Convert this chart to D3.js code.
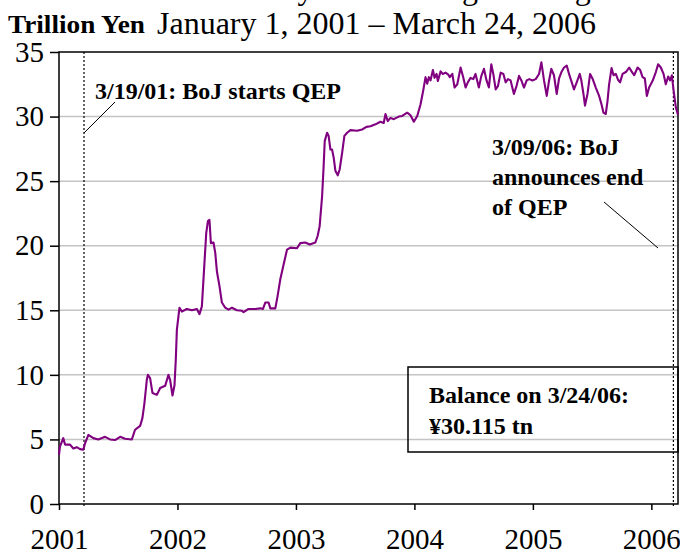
<!DOCTYPE html>
<html>
<head>
<meta charset="utf-8">
<script src="https://cdn.jsdelivr.net/npm/d3@7"></script>
<style>
  body { margin: 0; background: #fff; }
  svg { display: block; font-family: "Liberation Serif", "Times New Roman", serif; }
</style>
</head>
<body>
<div id="container"></div>
<script>
// time in decimal years, balance in trillion yen
const years = [
  2001.000, 2001.008, 2001.036, 2001.051, 2001.093, 2001.121, 2001.150, 2001.178, 2001.205, 2001.220,
  2001.248, 2001.290, 2001.332, 2001.389, 2001.431, 2001.473, 2001.516, 2001.558, 2001.615, 2001.642,
  2001.685, 2001.704, 2001.721, 2001.741, 2001.750, 2001.769, 2001.789, 2001.826, 2001.854, 2001.896,
  2001.924, 2001.938, 2001.958, 2001.975, 2001.986, 2001.995, 2002.017, 2002.037, 2002.079, 2002.122,
  2002.164, 2002.186, 2002.206, 2002.226, 2002.243, 2002.257, 2002.270, 2002.282, 2002.304, 2002.319,
  2002.333, 2002.355, 2002.375, 2002.403, 2002.431, 2002.460, 2002.502, 2002.544, 2002.558, 2002.600,
  2002.657, 2002.699, 2002.722, 2002.741, 2002.769, 2002.784, 2002.826, 2002.845, 2002.868, 2002.896,
  2002.925, 2002.953, 2003.009, 2003.037, 2003.079, 2003.116, 2003.164, 2003.183, 2003.200, 2003.221,
  2003.234, 2003.243, 2003.263, 2003.276, 2003.291, 2003.305, 2003.319, 2003.333, 2003.353, 2003.369,
  2003.390, 2003.409, 2003.432, 2003.460, 2003.516, 2003.559, 2003.595, 2003.629, 2003.671, 2003.713,
  2003.741, 2003.756, 2003.775, 2003.798, 2003.826, 2003.868, 2003.897, 2003.939, 2003.967, 2003.995,
  2004.024, 2004.052, 2004.074, 2004.094, 2004.108, 2004.122, 2004.136, 2004.156, 2004.170, 2004.187,
  2004.198, 2004.221, 2004.240, 2004.263, 2004.286, 2004.299, 2004.320, 2004.339, 2004.362, 2004.390,
  2004.413, 2004.432, 2004.451, 2004.474, 2004.497, 2004.516, 2004.544, 2004.565, 2004.587, 2004.609,
  2004.629, 2004.649, 2004.666, 2004.686, 2004.705, 2004.728, 2004.751, 2004.770, 2004.790, 2004.812,
  2004.840, 2004.863, 2004.883, 2004.903, 2004.925, 2004.948, 2004.970, 2004.996, 2005.024, 2005.052,
  2005.072, 2005.094, 2005.117, 2005.136, 2005.156, 2005.178, 2005.201, 2005.221, 2005.241, 2005.263,
  2005.286, 2005.305, 2005.325, 2005.347, 2005.370, 2005.396, 2005.410, 2005.427, 2005.440, 2005.461,
  2005.483, 2005.503, 2005.531, 2005.559, 2005.579, 2005.596, 2005.615, 2005.630, 2005.643, 2005.664,
  2005.681, 2005.700, 2005.719, 2005.736, 2005.757, 2005.785, 2005.813, 2005.833, 2005.855, 2005.884,
  2005.906, 2005.926, 2005.945, 2005.962, 2005.981, 2006.010, 2006.038, 2006.057, 2006.080, 2006.103,
  2006.122, 2006.142, 2006.159, 2006.173, 2006.188, 2006.207, 2006.225
];
const balance = [
  3.8, 4.45, 5.1, 4.6, 4.6, 4.3, 4.4, 4.25, 4.2, 4.7,
  5.35, 5.1, 5.0, 5.2, 5.0, 4.95, 5.2, 5.05, 5.0, 5.75,
  6.05, 6.65, 7.8, 9.6, 10.0, 9.75, 8.6, 8.45, 8.98, 9.15,
  10.0, 9.6, 8.4, 9.2, 11.2, 13.5, 15.2, 14.9, 15.1, 15.0,
  15.1, 14.7, 15.3, 18.4, 21.0, 21.9, 22.0, 20.2, 20.25, 19.45,
  18.0, 16.85, 15.6, 15.2, 15.05, 15.2, 15.0, 14.97, 14.85, 15.1,
  15.1, 15.15, 15.1, 15.6, 15.6, 15.15, 15.15, 16.1, 17.4, 18.55,
  19.7, 19.85, 19.8, 20.2, 20.25, 20.1, 20.25, 20.75, 21.5, 23.85,
  26.2, 28.1, 28.75, 28.5, 27.45, 27.45, 26.8, 25.8, 25.45, 25.9,
  27.2, 28.5, 28.75, 28.95, 28.9, 29.0, 29.2, 29.25, 29.4, 29.6,
  29.5, 30.2, 29.65, 29.9, 29.8, 30.0, 30.05, 30.3, 30.1, 29.6,
  30.05, 30.95, 32.0, 33.05, 32.55, 33.05, 32.8, 33.6, 33.0, 33.3,
  32.75, 33.5, 33.3, 33.4, 33.25, 33.05, 33.3, 32.25, 32.5, 33.8,
  33.0, 32.25, 32.65, 33.0, 32.9, 33.3, 32.25, 33.15, 33.7, 32.8,
  32.25, 34.05, 33.3, 32.1, 32.35, 33.4, 33.3, 32.65, 32.9, 32.8,
  31.75, 32.4, 33.15, 32.8, 32.25, 32.8, 32.9, 32.8, 32.9, 33.3,
  34.2, 32.8, 31.6, 32.75, 33.7, 33.2, 31.75, 32.95, 33.45, 33.8,
  33.95, 33.3, 32.75, 32.1, 32.65, 33.3, 32.75, 31.75, 30.85, 31.75,
  33.3, 32.95, 32.25, 31.6, 30.95, 30.3, 30.2, 31.2, 32.45, 33.75,
  33.2, 33.3, 32.85, 32.65, 33.3, 33.45, 33.8, 33.5, 33.2, 33.8,
  33.6, 33.05, 32.95, 31.6, 32.25, 32.75, 33.45, 34.05, 33.8, 33.3,
  32.5, 33.1, 32.8, 33.2, 32.0, 30.7, 30.115
];
const yTicks = [0, 5, 10, 15, 20, 25, 30, 35];
const xTicks = [2001, 2002, 2003, 2004, 2005, 2006];
const events = [2001.211, 2006.186]; // 3/19/01 and 3/09/06

const width = 680, height = 554;
const margin = { left: 59, right: 2, top: 52, bottom: 50 };

const x = d3.scaleLinear().domain([2001, 2006.225]).range([margin.left, width - margin.right]);
const y = d3.scaleLinear().domain([0, 35]).range([height - margin.bottom, margin.top]);

const svg = d3.select('#container').append('svg')
  .attr('width', width)
  .attr('height', height);

// grid lines
svg.append('g')
  .selectAll('line')
  .data(yTicks.filter(d => d > 0 && d < 35))
  .enter().append('line')
  .attr('x1', x.range()[0]).attr('x2', x.range()[1])
  .attr('y1', d => y(d)).attr('y2', d => y(d))
  .style('stroke', '#c4c4c4')
  .style('stroke-width', 1.5);

// y axis
const yAxis = svg.append('g')
  .attr('transform', `translate(${margin.left},0)`)
  .call(d3.axisLeft(y).tickValues(yTicks).tickSize(9).tickPadding(6).tickFormat(d3.format('d')));
yAxis.select('.domain').remove();
yAxis.selectAll('line').style('stroke', '#000').style('stroke-width', 1.5);
yAxis.selectAll('text')
  .style('font-family', '"Liberation Serif", serif')
  .style('font-size', '29px')
  .attr('fill', '#000');

// x axis
const xAxis = svg.append('g')
  .attr('transform', `translate(0,${y(0)})`)
  .call(d3.axisBottom(x).tickValues(xTicks).tickSize(6).tickPadding(18).tickFormat(d3.format('d')));
xAxis.select('.domain').remove();
xAxis.selectAll('line').style('stroke', '#000').style('stroke-width', 1.5);
xAxis.selectAll('text')
  .style('font-family', '"Liberation Serif", serif')
  .style('font-size', '29px')
  .attr('fill', '#000');

// frame
svg.append('rect')
  .attr('x', x.range()[0]).attr('y', y(35))
  .attr('width', x.range()[1] - x.range()[0])
  .attr('height', y(0) - y(35))
  .style('fill', 'none')
  .style('stroke', '#000')
  .style('stroke-width', 1.5);

// event lines
svg.append('g')
  .selectAll('line')
  .data(events)
  .enter().append('line')
  .attr('x1', d => x(d)).attr('x2', d => x(d))
  .attr('y1', y(35)).attr('y2', y(0) + 3)
  .style('stroke', '#000')
  .style('stroke-width', 1.2)
  .style('stroke-dasharray', '2,2');

// series
const line = d3.line()
  .x((d, i) => x(years[i]))
  .y(d => y(d));
svg.append('path')
  .datum(balance)
  .attr('d', line)
  .style('fill', 'none')
  .style('stroke', '#800080')
  .style('stroke-width', 2.1)
  .style('stroke-linejoin', 'round');

// titles (first line is cut off at the top edge, as in the original)
svg.append('text')
  .attr('x', 22).attr('y', -1)
  .style('font-size', '32px')
  .text('Current Account Daily Outstanding Holdings');
svg.append('text')
  .attr('x', 8).attr('y', 33)
  .style('font-size', '25px')
  .style('font-weight', 'bold')
  .attr('textLength', 137)
  .attr('lengthAdjust', 'spacingAndGlyphs')
  .text('Trillion Yen');
svg.append('text')
  .attr('x', 157).attr('y', 34)
  .style('font-size', '32px')
  .text('January 1, 2001 \u2013 March 24, 2006');

// annotations
const bold = (sel) => sel.style('font-size', '24px').style('font-weight', 'bold');
svg.append('text').attr('x', 95).attr('y', 99).call(bold).text('3/19/01: BoJ starts QEP');
svg.append('line')
  .attr('x1', x(events[0])).attr('y1', 133).attr('x2', 115).attr('y2', 102)
  .style('stroke', '#000').style('stroke-width', 1);

const note2 = ['3/09/06: BoJ', 'announces end', 'of QEP'];
svg.append('g').selectAll('text')
  .data(note2)
  .enter().append('text')
  .attr('x', 492).attr('y', (d, i) => 155 + i * 30)
  .call(bold)
  .text(d => d);
svg.append('line')
  .attr('x1', 604).attr('y1', 202).attr('x2', 658).attr('y2', 248)
  .style('stroke', '#000').style('stroke-width', 1);

// balance box
svg.append('rect')
  .attr('x', 408).attr('y', 367).attr('width', 270).attr('height', 85)
  .style('fill', 'none').style('stroke', '#000').style('stroke-width', 1.5);
svg.append('text').attr('x', 429).attr('y', 403).call(bold).text('Balance on 3/24/06:');
svg.append('text').attr('x', 429).attr('y', 434).call(bold).text('\u00a530.115 tn');
</script>
</body>
</html>
